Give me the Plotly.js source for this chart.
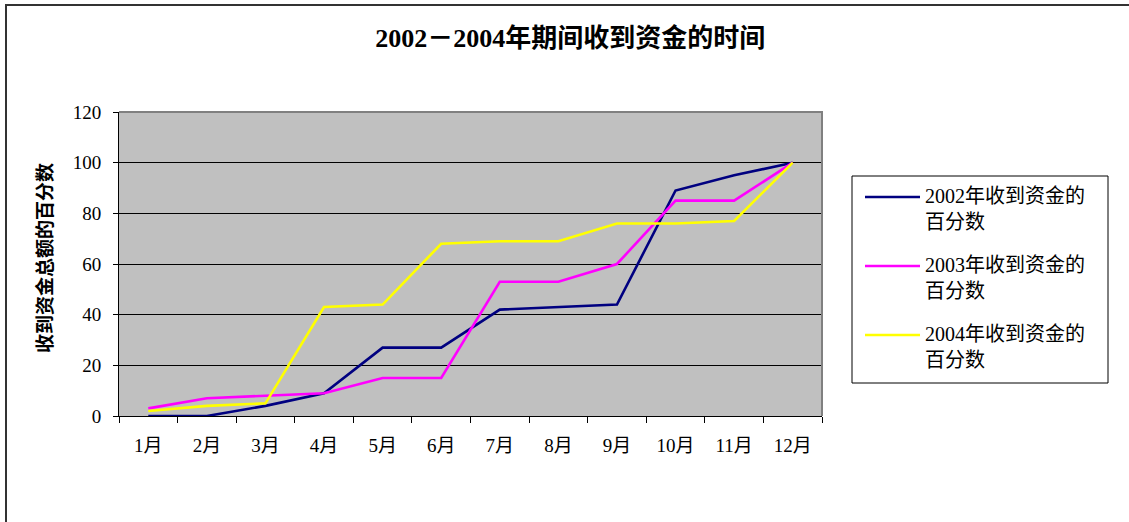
<!DOCTYPE html>
<html>
<head>
<meta charset="utf-8">
<script src="https://cdn.plot.ly/plotly-3.0.1.min.js"></script>
<style>
html,body{margin:0;padding:0;background:#fff;}
#chart{width:1129px;height:522px;}
</style>
</head>
<body>
<div id="chart"></div>
<script>
// ---- data ----
const months = ["1月","2月","3月","4月","5月","6月","7月","8月","9月","10月","11月","12月"];
const s2002 = [0, 0, 4, 9, 27, 27, 42, 43, 44, 89, 95, 100];
const s2003 = [3, 7, 8, 9, 15, 15, 53, 53, 60, 85, 85, 100];
const s2004 = [2, 4, 5, 43, 44, 68, 69, 69, 76, 76, 77, 100];
const seriesNames = ["2002年收到资金的<br>百分数", "2003年收到资金的<br>百分数", "2004年收到资金的<br>百分数"];
const chartTitle = "2002－2004年期间收到资金的时间";
const yTitle = "收到资金总额的百分数";
const yTicks = [0, 20, 40, 60, 80, 100, 120];

// ---- styling ----
const colors = ["#000080", "#FF00FF", "#FFFF00"];
const serif = "Liberation Serif, DejaVu Serif, Noto Sans CJK SC, serif";

// plot area pixel geometry
const W = 1129, H = 522;
const L = 119, R = 822, T = 112, B = 416;
const px = x => (x - L) / (R - L);
const py = y => (B - y) / (B - T);

const allSeries = [s2002, s2003, s2004];
const traces = allSeries.map((s, i) => ({
  type: "scatter",
  mode: "lines",
  x: months,
  y: s,
  name: seriesNames[i],
  line: {color: colors[i], width: 2.6},
  showlegend: false,
  hoverinfo: "x+y"
}));

// custom legend (lines at first text row as in reference)
const legendShapes = [];
const legendAnns = [];
const rowY = [197, 266, 335];
seriesNames.forEach((n, i) => {
  legendShapes.push({
    type: "line", xref: "paper", yref: "paper",
    x0: px(865), x1: px(920), y0: py(rowY[i]), y1: py(rowY[i]),
    line: {color: colors[i], width: 2.6}
  });
  legendAnns.push({
    xref: "paper", yref: "paper",
    x: px(923), y: py(rowY[i] - 14),
    xanchor: "left", yanchor: "top", align: "left",
    showarrow: false, text: n,
    font: {family: serif, size: 20, color: "#000"}
  });
});

const layout = {
  width: W, height: H,
  margin: {l: L, r: W - R, t: T, b: H - B, pad: 0},
  paper_bgcolor: "#ffffff",
  plot_bgcolor: "#C0C0C0",
  font: {family: serif, size: 19, color: "#000"},
  title: {
    text: chartTitle,
    xref: "container", yref: "container",
    x: 0.505, y: 1 - 38 / H, xanchor: "center", yanchor: "middle",
    font: {family: serif, size: 26, color: "#000", weight: "bold"}
  },
  xaxis: {
    type: "category",
    range: [-0.5, months.length - 0.5],
    showgrid: false, zeroline: false,
    showline: true, linecolor: "#000", linewidth: 1,
    ticks: "outside", ticklen: 6, tickcolor: "#000", tickwidth: 1,
    tickson: "boundaries",
    ticklabelstandoff: 12,
    tickfont: {family: serif, size: 19, color: "#000"},
    fixedrange: true
  },
  yaxis: {
    range: [0, 120],
    tickvals: yTicks,
    showgrid: true, gridcolor: "#000", gridwidth: 1,
    zeroline: false,
    showline: true, linecolor: "#000", linewidth: 1,
    ticks: "outside", ticklen: 5, tickcolor: "#000", tickwidth: 1,
    ticklabelstandoff: 8,
    tickfont: {family: serif, size: 19, color: "#000"},
    fixedrange: true
  },
  shapes: [
    // plot-area border (top/right grey)
    {type: "path", xref: "paper", yref: "paper",
     path: `M0,1 L1,1 L1,0`, line: {color: "#808080", width: 2}, layer: "above"},
    // legend box
    {type: "rect", xref: "paper", yref: "paper",
     x0: px(852), x1: px(1108), y0: py(383), y1: py(176),
     line: {color: "#000", width: 1}, fillcolor: "#ffffff", layer: "below"},
    // outer chart frame
    {type: "path", xref: "paper", yref: "paper",
     path: `M${px(6)},${py(540)} L${px(6)},${py(5)} L${px(1140)},${py(5)}`,
     line: {color: "#333", width: 2}}
  ].concat(legendShapes),
  annotations: [
    {xref: "paper", yref: "paper", x: px(45), y: py(258),
     xanchor: "center", yanchor: "middle", textangle: -90, showarrow: false,
     text: yTitle, font: {family: serif, size: 19, color: "#000", weight: "bold"}}
  ].concat(legendAnns)
};

Plotly.newPlot("chart", traces, layout, {displayModeBar: false, staticPlot: true});
</script>
</body>
</html>
